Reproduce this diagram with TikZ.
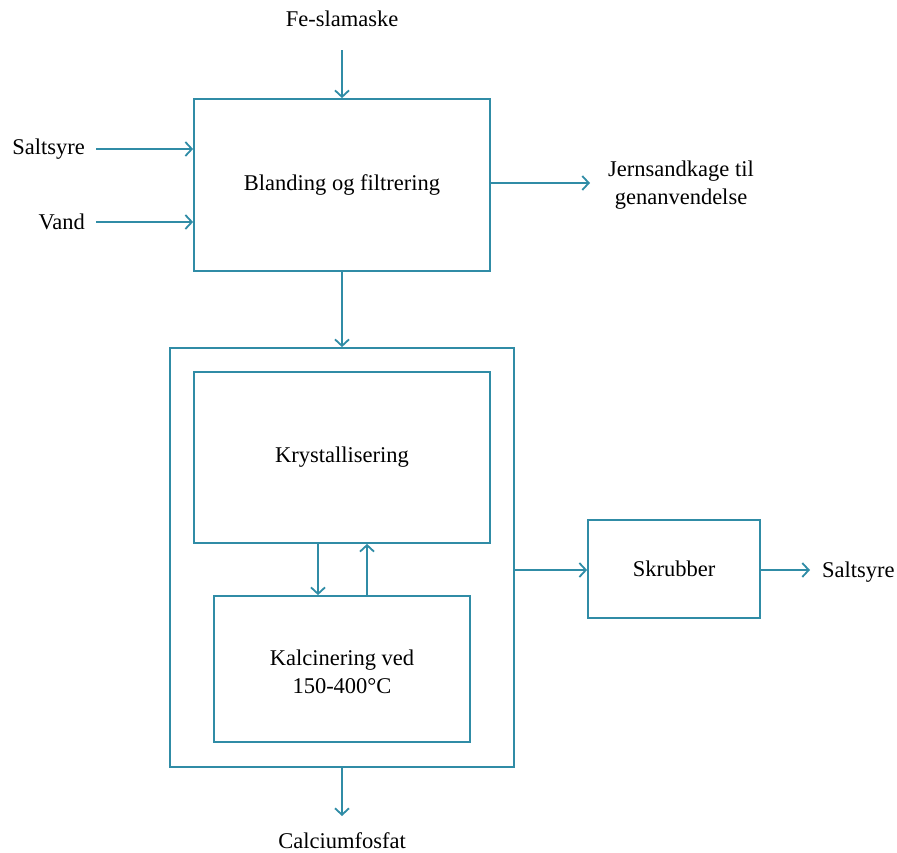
\documentclass[tikz,border=0pt]{standalone}
\usepackage{fontspec}
\setmainfont{Liberation Serif}
\usetikzlibrary{arrows.meta}
\definecolor{flow}{RGB}{48,140,166}
\tikzset{
  box/.style={draw=flow, line width=1.8pt, inner sep=0pt},
  flowline/.style={draw=flow, line width=1.8pt, -{Straight Barb[length=6.5pt,width=14pt,line width=1.8pt]}},
  lbl/.style={font=\fontsize{22.5}{28}\selectfont, text=black, align=center, inner sep=0pt}
}
\begin{document}
\begin{tikzpicture}[x=1pt,y=-1pt]
\useasboundingbox (0,0) rectangle (897,852);
% process boxes
\node[box, minimum width=296pt, minimum height=172pt] (mix) at (342,185) {};
\node[lbl] at (mix.center) {Blanding og filtrering};
\node[box, minimum width=344pt, minimum height=419pt] (outer) at (342,557.5) {};
\node[box, minimum width=296pt, minimum height=171pt] (kryst) at (342,457.5) {};
\node[lbl] at (kryst.center) {Krystallisering};
\node[box, minimum width=256pt, minimum height=146pt] (kalc) at (342,669) {};
\node[lbl] at (342,672) {Kalcinering ved\\150-400°C};
\node[box, minimum width=172pt, minimum height=98pt] (skrub) at (674,569) {};
\node[lbl] at (skrub.center) {Skrubber};
% inputs and outputs
\node[lbl] (fe) at (342,19) {Fe-slamaske};
\node[lbl, anchor=east] (hcl) at (85,149) {Saltsyre};
\node[lbl, anchor=east] (vand) at (85,222) {Vand};
\node[lbl] (jern) at (681,185) {Jernsandkage til\\genanvendelse};
\node[lbl, anchor=west] (hclout) at (822,572) {Saltsyre};
\node[lbl] (cal) at (342,841) {Calciumfosfat};
\coordinate (feend) at (342,50);
\coordinate (hclend) at (96,149);
\coordinate (vandend) at (96,222);
\coordinate (jernend) at (590,183);
\coordinate (hcloutend) at (810,570);
\coordinate (calend) at (342,816);
% connectors
\draw[flowline] (feend) -- (mix.north);
\draw[flowline] (hclend) -- (hclend -| mix.west);
\draw[flowline] (vandend) -- (vandend -| mix.west);
\draw[flowline] (jernend -| mix.east) -- (jernend);
\draw[flowline] (mix.south) -- (outer.north);
\draw[flowline] (318,0 |- kryst.south) -- (318,0 |- kalc.north);
\draw[flowline] (367,0 |- kalc.north) -- (367,0 |- kryst.south);
\draw[flowline] (hcloutend -| outer.east) -- (hcloutend -| skrub.west);
\draw[flowline] (hcloutend -| skrub.east) -- (hcloutend);
\draw[flowline] (outer.south) -- (calend);
\end{tikzpicture}
\end{document}
